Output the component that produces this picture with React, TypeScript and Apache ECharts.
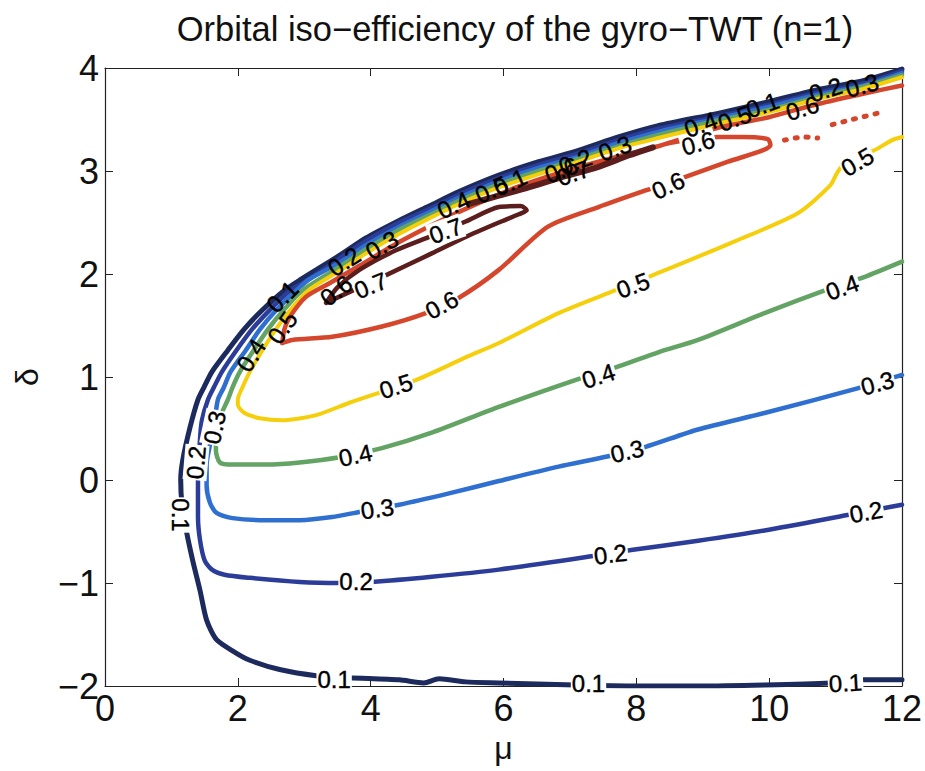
import React, { useEffect, useRef } from 'react';
import * as echarts from 'echarts';

const FONT = '"Liberation Sans", Arial, Helvetica, sans-serif';

const titleText = 'Orbital iso\u2212efficiency of the gyro\u2212TWT (n=1)';
const xName = '\u03bc';
const yName = '\u03b4';
const xTicks = [0, 2, 4, 6, 8, 10, 12];
const yTicks = [-2, -1, 0, 1, 2, 3, 4];

const levels = ['0.1', '0.2', '0.3', '0.4', '0.5', '0.6', '0.7'];
const levelColors = ['#1d2a5e', '#2b3d98', '#2f6fd0', '#63a364', '#f5cf0c', '#d4472c', '#5b1e1c'];

// iso-efficiency contour 0.1  [mu, delta]
const iso01: number[][] = [
  [12.0, -1.94], [11.43, -1.94], [10.92, -1.97], [9.93, -1.99], [8.93, -2.0], [7.92, -2.0], [7.08, -1.99],
  [5.93, -1.97], [5.43, -1.96], [5.03, -1.93], [4.8, -1.97], [4.43, -1.94], [3.68, -1.92], [3.18, -1.9],
  [2.63, -1.84], [2.18, -1.75], [1.95, -1.67], [1.68, -1.55], [1.53, -1.36], [1.43, -1.07], [1.32, -0.78],
  [1.23, -0.51], [1.16, -0.24], [1.14, 0.0], [1.17, 0.19], [1.28, 0.51], [1.4, 0.78], [1.49, 0.9],
  [1.61, 1.05], [1.85, 1.26], [2.09, 1.46], [2.37, 1.65], [2.7, 1.84], [2.93, 1.94], [3.53, 2.18],
  [3.93, 2.35], [4.43, 2.52], [4.88, 2.66], [5.33, 2.8], [5.93, 2.96], [6.53, 3.09], [7.13, 3.2],
  [7.73, 3.33], [8.33, 3.44], [9.23, 3.56], [9.98, 3.67], [10.73, 3.79], [11.43, 3.88], [12.0, 3.99],
];

const iso02: number[][] = [
  [12.0, -0.24], [11.18, -0.34], [9.93, -0.49], [8.93, -0.59], [7.92, -0.68], [7.43, -0.73], [5.93, -0.87],
  [4.92, -0.94], [4.02, -0.99], [3.53, -1.0], [2.93, -0.99], [2.18, -0.95], [1.8, -0.92], [1.61, -0.87],
  [1.5, -0.78], [1.43, -0.58], [1.4, -0.36], [1.4, -0.03], [1.43, 0.39], [1.46, 0.58], [1.55, 0.78],
  [1.64, 0.9], [1.76, 1.05], [1.98, 1.26], [2.21, 1.46], [2.48, 1.65], [2.79, 1.84], [3.0, 1.92],
  [3.53, 2.15], [3.93, 2.32], [4.43, 2.5], [4.88, 2.63], [5.33, 2.77], [5.93, 2.93], [6.53, 3.06],
  [7.13, 3.17], [7.73, 3.3], [8.33, 3.41], [9.23, 3.53], [9.98, 3.64], [10.73, 3.76], [11.43, 3.85], [12.0, 3.97],
];

const iso03: number[][] = [
  [12.0, 1.02], [11.33, 0.89], [9.93, 0.65], [8.93, 0.49], [8.13, 0.32], [7.58, 0.23], [6.83, 0.13],
  [5.93, -0.01], [5.18, -0.13], [4.43, -0.24], [3.83, -0.31], [3.42, -0.36], [2.93, -0.39], [2.43, -0.39],
  [1.92, -0.37], [1.68, -0.32], [1.58, -0.22], [1.53, -0.05], [1.53, 0.15], [1.58, 0.34], [1.64, 0.53],
  [1.7, 0.78], [1.79, 0.9], [1.89, 1.05], [2.12, 1.26], [2.33, 1.46], [2.58, 1.65], [2.88, 1.84],
  [3.08, 1.95], [3.53, 2.11], [3.93, 2.28], [4.43, 2.46], [4.88, 2.6], [5.33, 2.74], [5.93, 2.9],
  [6.53, 3.03], [7.13, 3.14], [7.73, 3.27], [8.33, 3.38], [9.23, 3.51], [9.98, 3.62], [10.73, 3.74],
  [11.43, 3.83], [12.0, 3.95],
];

const iso04: number[][] = [
  [12.0, 2.12], [11.43, 1.97], [10.92, 1.86], [9.93, 1.62], [8.93, 1.36], [8.33, 1.24], [7.68, 1.09],
  [7.17, 0.99], [5.93, 0.71], [4.92, 0.46], [4.17, 0.31], [3.53, 0.22], [2.93, 0.17], [2.43, 0.15],
  [1.92, 0.15], [1.73, 0.17], [1.67, 0.29], [1.67, 0.46], [1.73, 0.61], [1.85, 0.78], [1.92, 0.9],
  [2.03, 1.05], [2.24, 1.26], [2.45, 1.46], [2.69, 1.65], [2.97, 1.84], [3.53, 2.07], [3.93, 2.24],
  [4.43, 2.43], [4.88, 2.57], [5.33, 2.71], [5.93, 2.87], [6.53, 3.0], [7.13, 3.12], [7.73, 3.24],
  [8.33, 3.35], [9.23, 3.49], [9.98, 3.59], [10.73, 3.72], [11.43, 3.82], [12.0, 3.93],
];

const iso05: number[][] = [
  [12.0, 3.33], [11.85, 3.3], [11.58, 3.2], [11.18, 3.11], [11.03, 2.99], [10.92, 2.86], [10.43, 2.59],
  [9.42, 2.3], [8.18, 1.97], [7.68, 1.84], [6.83, 1.62], [5.93, 1.33], [5.43, 1.19], [4.68, 0.97],
  [3.68, 0.75], [3.18, 0.63], [2.67, 0.58], [2.33, 0.6], [2.1, 0.65], [2.0, 0.73], [2.0, 0.78],
  [2.07, 0.9], [2.18, 1.05], [2.37, 1.26], [2.57, 1.46], [2.79, 1.65], [3.06, 1.84], [3.53, 2.03],
  [3.93, 2.2], [4.43, 2.39], [4.88, 2.54], [5.33, 2.68], [5.93, 2.84], [6.53, 2.97], [7.13, 3.09],
  [7.73, 3.22], [8.33, 3.32], [9.23, 3.46], [9.98, 3.57], [10.73, 3.7], [11.43, 3.8], [12.0, 3.91],
];

const iso06Band: number[][] = [
  [2.67, 1.33], [2.7, 1.46], [2.78, 1.58], [3.03, 1.78], [3.38, 1.91], [3.83, 2.08], [4.43, 2.31],
  [5.03, 2.51], [5.63, 2.69], [6.23, 2.85], [6.83, 2.98], [7.43, 3.09], [8.03, 3.19], [8.33, 3.24],
  [9.23, 3.42], [9.98, 3.52], [10.73, 3.65], [11.48, 3.76], [12.0, 3.83],
];

const iso06Loop: number[][] = [
  [2.67, 1.33], [2.82, 1.36], [3.42, 1.39], [4.17, 1.49], [4.83, 1.62], [5.33, 1.77], [5.93, 2.04],
  [6.67, 2.46], [7.43, 2.65], [8.18, 2.82], [8.73, 2.94], [9.38, 3.09], [9.9, 3.2], [10.02, 3.25],
  [9.98, 3.31], [9.6, 3.33], [9.23, 3.33], [8.78, 3.3], [8.48, 3.27],
];

const iso06DotsA: number[][] = [[10.23, 3.3], [10.53, 3.33], [10.73, 3.32]];
const iso06DotsB: number[][] = [[10.95, 3.45], [11.25, 3.5], [11.63, 3.56]];

const iso07Loop: number[][] = [
  [3.33, 1.72], [3.53, 1.78], [4.17, 1.97], [4.92, 2.2], [5.43, 2.36], [5.93, 2.5], [6.23, 2.58],
  [6.35, 2.62], [6.26, 2.66], [5.93, 2.65], [5.43, 2.51], [4.92, 2.37], [4.38, 2.23], [3.83, 2.04],
  [3.5, 1.87], [3.33, 1.72],
];

const iso07Band: number[][] = [
  [5.48, 2.68], [5.93, 2.76], [6.38, 2.84], [6.83, 2.93], [7.43, 3.04], [7.88, 3.15], [8.25, 3.23],
];

// contour labels: text, mu, delta, angle (deg), line cut behind label
const contourLabels: [string, number, number, number, boolean][] = [
  ['0.1', 3.45, -1.94, 0, true], ['0.1', 7.28, -1.98, 0, true], ['0.1', 11.15, -1.97, 3, true],
  ['0.1', 1.14, -0.34, -90, true],
  ['0.2', 3.78, -0.99, 0, true], ['0.2', 7.61, -0.72, 7, true], ['0.2', 11.46, -0.31, 10, true],
  ['0.2', 1.37, 0.17, 85, true],
  ['0.3', 4.1, -0.28, 8, true], ['0.3', 7.86, 0.28, 13, true], ['0.3', 11.63, 0.94, 15, true],
  ['0.3', 1.65, 0.51, 78, true],
  ['0.4', 3.77, 0.24, 12, true], ['0.4', 7.43, 1.01, 18, true], ['0.4', 11.1, 1.87, 20, true],
  ['0.5', 4.38, 0.91, 18, true], ['0.5', 7.95, 1.89, 20, true], ['0.5', 11.33, 3.09, 30, true],
  ['0.6', 5.07, 1.7, 28, true], ['0.6', 8.48, 2.86, 25, true], ['0.6', 8.93, 3.27, 15, true],
  ['0.7', 4.0, 1.89, 22, true], ['0.7', 5.13, 2.42, 20, true],
  ['0.1', 2.67, 1.78, 45, false], ['0.4', 2.2, 1.21, 58, false], ['0.5', 2.67, 1.48, 55, false],
  ['0.6', 3.48, 1.84, 38, false], ['0.2', 3.6, 2.12, 33, false], ['0.3', 4.17, 2.28, 30, false],
  ['0.4', 5.25, 2.67, 25, false], ['0.5', 5.82, 2.82, 25, false], ['0.1', 6.1, 2.89, 25, false],
  ['0.6', 6.87, 3.01, 20, false], ['0.2', 7.08, 3.09, 20, false], ['0.7', 7.05, 2.98, 20, false],
  ['0.3', 7.68, 3.22, 20, false], ['0.4', 8.97, 3.45, 20, false], ['0.5', 9.48, 3.51, 20, false],
  ['0.1', 9.9, 3.64, 20, false], ['0.6', 10.5, 3.61, 17, false], ['0.2', 10.85, 3.79, 17, false],
  ['0.3', 11.4, 3.83, 15, false],
];

function lineSeries(data: number[][], level: string, width = 4.5, dashed = false) {
  const color = levelColors[levels.indexOf(level)];
  return {
    type: 'line',
    name: level,
    data,
    showSymbol: false,
    symbol: 'none',
    smooth: 0.25,
    clip: true,
    z: 2,
    lineStyle: { color, width, cap: 'round', join: 'round', type: dashed ? [2, 9] : 'solid' },
  };
}

const fmtTick = (v: number) => (v < 0 ? '\u2212' + Math.abs(v) : String(v));

export default function App() {
  const ref = useRef<HTMLDivElement>(null);
  useEffect(() => {
    if (!ref.current) return;
    const chart = echarts.init(ref.current, undefined, { renderer: 'svg' });
    const axisLine = { show: true, onZero: false, lineStyle: { color: '#222', width: 1.2 } };
    const axisTick = { show: true, inside: true, length: 8, lineStyle: { color: '#222', width: 1 } };
    const option: any = {
      animation: false,
      backgroundColor: '#fff',
      title: {
        text: titleText,
        left: 510,
        top: 6,
        textAlign: 'center',
        textStyle: { fontSize: 34.5, fontWeight: 'normal', color: '#111', fontFamily: FONT },
      },
      grid: { left: 105, right: 20, top: 68, bottom: 85, containLabel: false },
      xAxis: [
        {
          type: 'value', min: xTicks[0], max: xTicks[xTicks.length - 1], interval: 2, position: 'bottom',
          axisLine, axisTick, splitLine: { show: false },
          axisLabel: { fontSize: 36, color: '#111', fontFamily: FONT, margin: 4, formatter: fmtTick },
          name: xName, nameLocation: 'middle', nameGap: 46,
          nameTextStyle: { fontSize: 32, color: '#111', fontFamily: FONT },
        },
        {
          type: 'value', min: xTicks[0], max: xTicks[xTicks.length - 1], interval: 2, position: 'top',
          axisLine, axisTick, splitLine: { show: false }, axisLabel: { show: false },
        },
      ],
      yAxis: [
        {
          type: 'value', min: yTicks[0], max: yTicks[yTicks.length - 1], interval: 1, position: 'left',
          axisLine, axisTick, splitLine: { show: false },
          axisLabel: { fontSize: 36, color: '#111', fontFamily: FONT, margin: 6, formatter: fmtTick },
          name: yName, nameLocation: 'middle', nameGap: 62, nameRotate: 90,
          nameTextStyle: { fontSize: 32, color: '#111', fontFamily: FONT },
        },
        {
          type: 'value', min: yTicks[0], max: yTicks[yTicks.length - 1], interval: 1, position: 'right',
          axisLine, axisTick, splitLine: { show: false }, axisLabel: { show: false },
        },
      ],
      series: [
        lineSeries(iso01, '0.1', 5),
        lineSeries(iso02, '0.2', 4.5),
        lineSeries(iso03, '0.3', 4.5),
        lineSeries(iso04, '0.4', 4.5),
        lineSeries(iso05, '0.5', 4),
        lineSeries(iso06Band, '0.6', 4.5),
        lineSeries(iso06Loop, '0.6', 4.5),
        lineSeries(iso06DotsA, '0.6', 5, true),
        lineSeries(iso06DotsB, '0.6', 5, true),
        lineSeries(iso07Loop, '0.7', 4.5),
        lineSeries(iso07Band, '0.7', 6),
        {
          type: 'scatter',
          symbolSize: 1,
          silent: true,
          z: 10,
          itemStyle: { color: 'rgba(0,0,0,0)' },
          label: {
            show: true, position: 'inside', fontSize: 24, color: '#000', fontFamily: FONT,
            align: 'center', verticalAlign: 'middle', opacity: 1,
            textBorderColor: '#000', textBorderWidth: 0.4,
          },
          data: contourLabels.map(([t, x, y, rot, cut]) => ({
            value: [x, y],
            name: t,
            label: {
              show: true,
              formatter: t,
              rotate: rot,
              color: '#000',
              opacity: 1,
              textBorderColor: '#000',
              textBorderWidth: 0.4,
              backgroundColor: cut ? '#fff' : 'transparent',
              padding: cut ? [0, 1] : 0,
            },
          })),
        },
      ],
    };
    chart.setOption(option);
    return () => chart.dispose();
  }, []);
  return (
    <div
      ref={ref}
      style={{ position: 'absolute', left: 0, top: 0, width: 925, height: 771, background: '#fff' }}
    />
  );
}
